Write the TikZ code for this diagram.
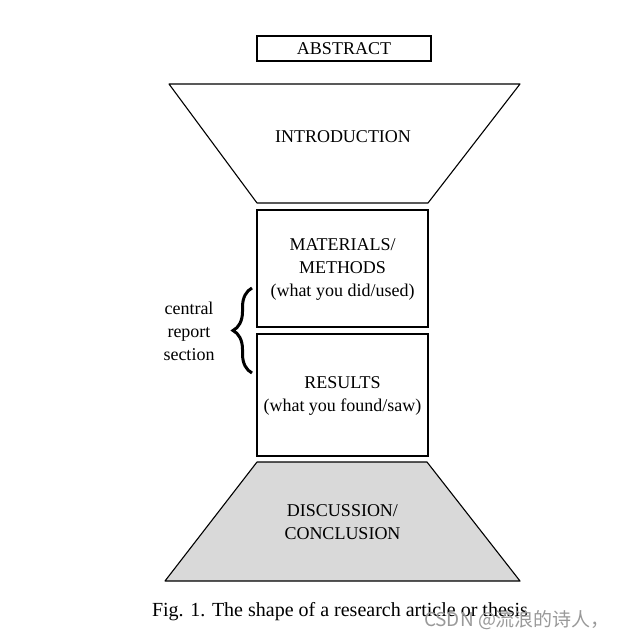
\documentclass[tikz,border=0pt]{standalone}
\usepackage{fontspec}
\setmainfont{Liberation Serif}
\newfontfamily\cjk{Noto Sans CJK SC}
\usepackage{tikz}
\usetikzlibrary{decorations.pathreplacing}

\begin{document}
\begin{tikzpicture}[x=1pt,y=-1pt,
  part/.style={draw,line width=1.1pt},
  label/.style={align=center,font=\fontsize{18}{23}\selectfont,inner sep=0pt}]
  \useasboundingbox (0,0) rectangle (624,642);
  % top
  \node[part,minimum width=174pt,minimum height=25pt,inner sep=0pt,font=\fontsize{18}{23}\selectfont] (abstract) at (344,48.5) {ABSTRACT};
  \draw[part,line join=round] (169,84) -- (520,84) -- (428,203) -- (257,203) -- cycle;
  \node[label] (intro) at (343,137) {INTRODUCTION};
  % central section
  \draw[part] (257,210) rectangle (428,327);
  \node[label] (methods) at (342.5,269) {MATERIALS/\\METHODS\\(what you did/used)};
  \draw[part] (257,334) rectangle (428,456);
  \node[label] (results) at (342.5,395.5) {RESULTS\\(what you found/saw)};
  \coordinate (bracebot) at (252,373);
  \coordinate (bracetop) at (252,288);
  \draw[line width=3pt,decorate,decoration={brace,amplitude=19pt,aspect=0.5}] (bracebot) -- (bracetop);
  \node[label] (central) at (189,331) {central\\report\\section};
  % bottom
  \draw[part,fill=black!15,line join=round] (257,462) -- (427,462) -- (520,581) -- (165,581) -- cycle;
  \node[label] (discussion) at (342.5,522.5) {DISCUSSION/\\CONCLUSION};
  \node[font=\fontsize{20}{24}\selectfont,inner sep=0pt] (caption) at (340,612) {Fig. 1. The shape of a research article or thesis};
  \node[font=\cjk\fontsize{19}{22}\selectfont,text=black!40,inner sep=0pt] (mark) at (517,620) {CSDN @流浪的诗人，};
\end{tikzpicture}
\end{document}
